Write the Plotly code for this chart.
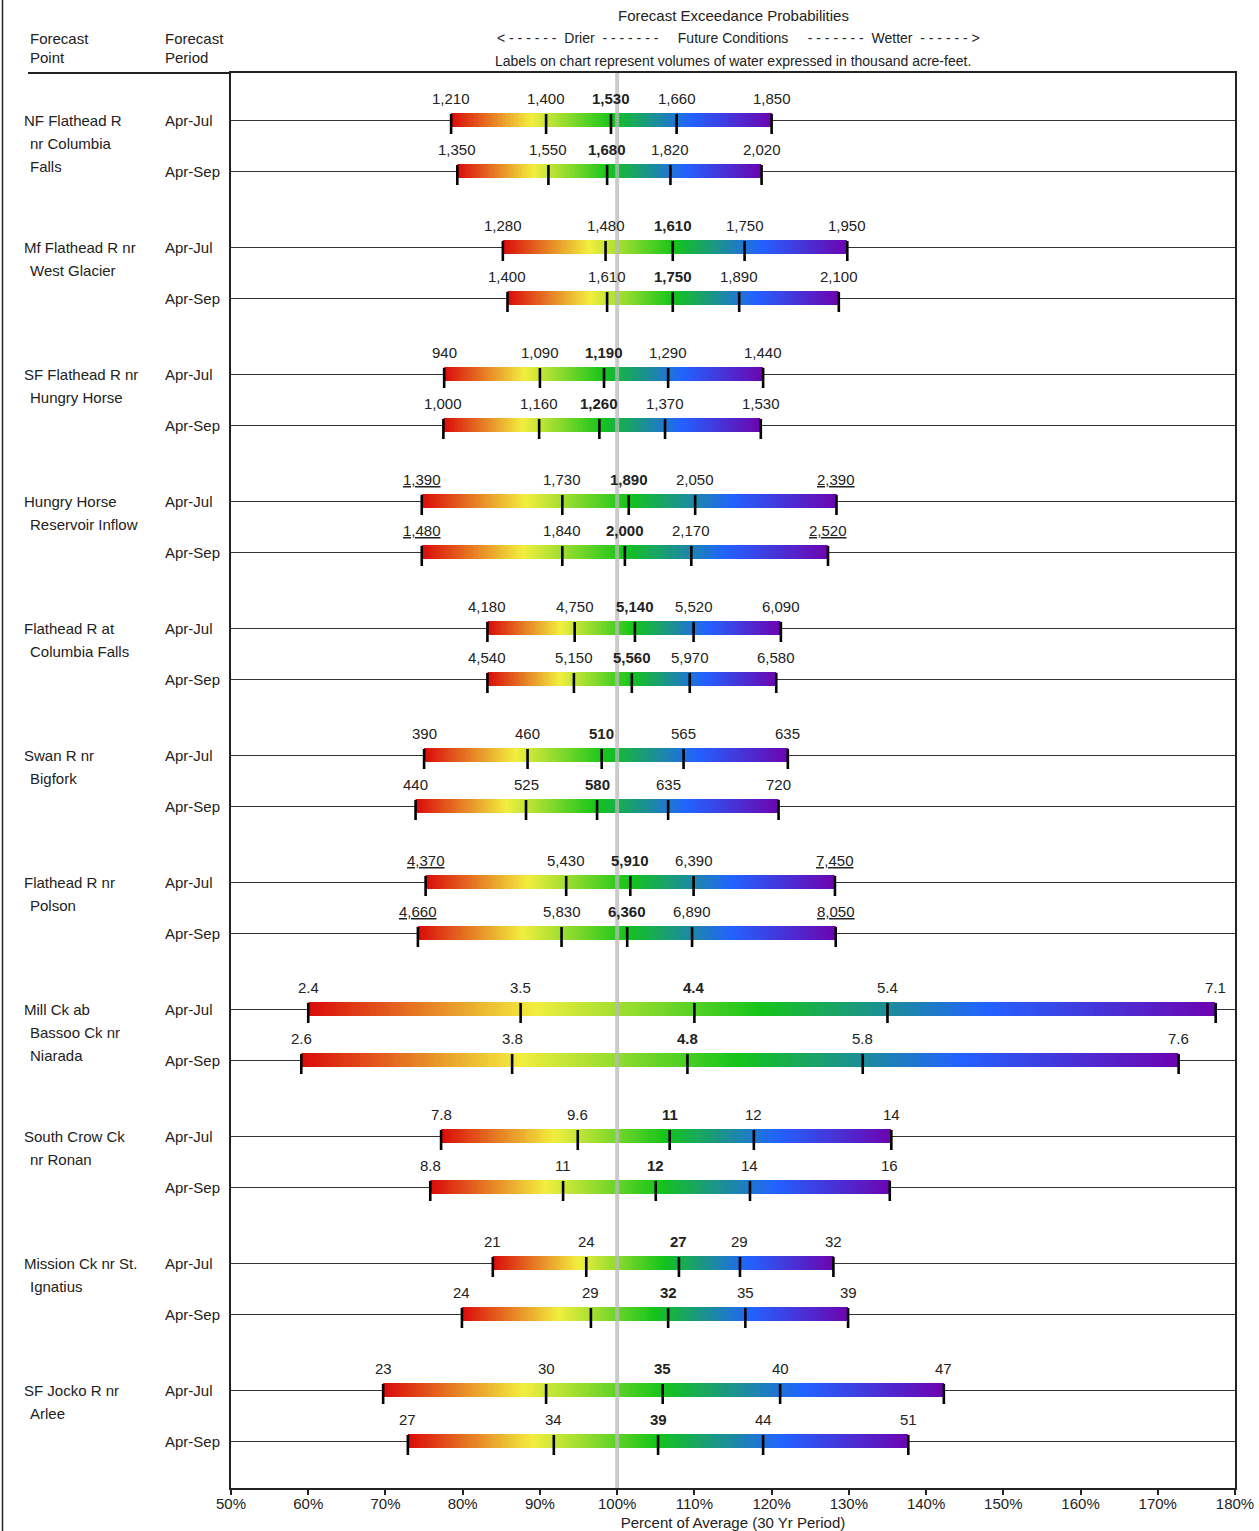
import numpy as np
import plotly.graph_objects as go

# ---------------- data ----------------
point_names = [
    "NF Flathead R\nnr Columbia\nFalls",
    "Mf Flathead R nr\nWest Glacier",
    "SF Flathead R nr\nHungry Horse",
    "Hungry Horse\nReservoir Inflow",
    "Flathead R at\nColumbia Falls",
    "Swan R nr\nBigfork",
    "Flathead R nr\nPolson",
    "Mill Ck ab\nBassoo Ck nr\nNiarada",
    "South Crow Ck\nnr Ronan",
    "Mission Ck nr St.\nIgnatius",
    "SF Jocko R nr\nArlee",
]
periods = ["Apr-Jul", "Apr-Sep"]

# exceedance labels (90%, 70%, 50%, 30%, 10%) per row, thousand acre-feet
value_labels = [
    ["1,210", "1,400", "1,530", "1,660", "1,850"],
    ["1,350", "1,550", "1,680", "1,820", "2,020"],
    ["1,280", "1,480", "1,610", "1,750", "1,950"],
    ["1,400", "1,610", "1,750", "1,890", "2,100"],
    ["940", "1,090", "1,190", "1,290", "1,440"],
    ["1,000", "1,160", "1,260", "1,370", "1,530"],
    ["1,390", "1,730", "1,890", "2,050", "2,390"],
    ["1,480", "1,840", "2,000", "2,170", "2,520"],
    ["4,180", "4,750", "5,140", "5,520", "6,090"],
    ["4,540", "5,150", "5,560", "5,970", "6,580"],
    ["390", "460", "510", "565", "635"],
    ["440", "525", "580", "635", "720"],
    ["4,370", "5,430", "5,910", "6,390", "7,450"],
    ["4,660", "5,830", "6,360", "6,890", "8,050"],
    ["2.4", "3.5", "4.4", "5.4", "7.1"],
    ["2.6", "3.8", "4.8", "5.8", "7.6"],
    ["7.8", "9.6", "11", "12", "14"],
    ["8.8", "11", "12", "14", "16"],
    ["21", "24", "27", "29", "32"],
    ["24", "29", "32", "35", "39"],
    ["23", "30", "35", "40", "47"],
    ["27", "34", "39", "44", "51"],
]

# percent of 30-yr average for each exceedance level
pct_of_avg = [
    [78.5, 90.8, 99.2, 107.7, 120.0],
    [79.3, 91.1, 98.7, 106.9, 118.7],
    [85.2, 98.5, 107.2, 116.5, 129.8],
    [85.8, 98.7, 107.2, 115.8, 128.7],
    [77.6, 90.0, 98.3, 106.6, 118.9],
    [77.5, 89.9, 97.7, 106.2, 118.6],
    [74.7, 92.9, 101.5, 110.1, 128.4],
    [74.7, 92.9, 101.0, 109.6, 127.3],
    [83.2, 94.5, 102.3, 109.9, 121.2],
    [83.2, 94.4, 101.9, 109.4, 120.6],
    [75.0, 88.4, 98.0, 108.6, 122.1],
    [73.9, 88.2, 97.4, 106.6, 120.9],
    [75.2, 93.4, 101.7, 109.9, 128.2],
    [74.2, 92.8, 101.3, 109.7, 128.3],
    [60.0, 87.5, 110.0, 135.0, 177.5],
    [59.1, 86.4, 109.1, 131.8, 172.7],
    [77.2, 94.9, 106.8, 117.7, 135.5],
    [75.8, 93.0, 105.0, 117.2, 135.3],
    [83.9, 96.0, 108.0, 115.9, 128.0],
    [79.9, 96.6, 106.6, 116.6, 129.9],
    [69.7, 90.8, 105.9, 121.1, 142.3],
    [72.9, 91.8, 105.3, 118.9, 137.7],
]

median_index = 2
underlined_rows = [6, 7, 12, 13]   # rows whose extreme labels are underlined
x_ticks = list(range(50, 181, 10))
average_line = 100

# ---------------- layout helpers ----------------
W, H = 1259, 1531
ML, MR, MT, MB = 231, 24, 73, 43
PW, PH = W - ML - MR, H - MT - MB
ROW_PX = 51.0
GROUP_STEP = 127 / ROW_PX
FIRST_ROW_PX = 120
rows_y = [g * GROUP_STEP + r for g in range(len(point_names)) for r in range(len(periods))]
y_top = (MT - FIRST_ROW_PX) / ROW_PX
y_bot = (MT + PH - FIRST_ROW_PX) / ROW_PX

BAR_HALF = 7 / ROW_PX
TICK_UP = 6 / ROW_PX
TICK_DOWN = 14 / ROW_PX

FONT = "Liberation Sans, Arial, sans-serif"
TXT = "#222222"

rainbow = [
    [0.0, "#da0a0a"],
    [0.25, "#f2ee3e"],
    [0.5, "#14c41a"],
    [0.75, "#2262ff"],
    [1.0, "#6c04b0"],
]


def px_to_paper_x(px):
    return (px - ML) / PW


def px_to_paper_y(py):
    return 1 - (py - MT) / PH


fig = go.Figure()

# gradient bars
N = 240
frac = (np.arange(N) + 0.5) / N
for pcts, y in zip(pct_of_avg, rows_y):
    edges = np.linspace(pcts[0], pcts[-1], N + 1)
    fig.add_trace(go.Heatmap(
        x=edges, y=[y - BAR_HALF, y + BAR_HALF], z=[frac],
        colorscale=rainbow, zmin=0, zmax=1, showscale=False, hoverinfo="skip",
    ))

# tick marks at each exceedance level
tx, ty = [], []
for pcts, y in zip(pct_of_avg, rows_y):
    for p in pcts:
        tx += [p, p, None]
        ty += [y - TICK_UP, y + TICK_DOWN, None]
fig.add_trace(go.Scatter(x=tx, y=ty, mode="lines",
                         line=dict(color="black", width=2.6),
                         hoverinfo="skip", showlegend=False))

annotations = []
# value labels
for i, (pcts, labs, y) in enumerate(zip(pct_of_avg, value_labels, rows_y)):
    for j, (p, lab) in enumerate(zip(pcts, labs)):
        t = lab
        if j == median_index:
            t = "<b>" + t + "</b>"
        if i in underlined_rows and j in (0, len(labs) - 1):
            t = "<u>" + t + "</u>"
        annotations.append(dict(x=p, y=y, xref="x", yref="y", text=t, showarrow=False,
                                yshift=22, font=dict(size=15, color=TXT, family=FONT)))

# forecast point names and periods
for g, name in enumerate(point_names):
    y0 = rows_y[2 * g]
    for k, line in enumerate(name.split("\n")):
        annotations.append(dict(x=px_to_paper_x(24), y=y0, xref="paper", yref="y", text=line,
                                showarrow=False, xanchor="left", yshift=-23 * k,
                                xshift=(4 if k > 0 else -2),
                                font=dict(size=15, color=TXT, family=FONT)))
    for r, per in enumerate(periods):
        annotations.append(dict(x=px_to_paper_x(165), y=rows_y[2 * g + r], xref="paper", yref="y",
                                text=per, showarrow=False, xanchor="left", xshift=-2,
                                font=dict(size=15, color=TXT, family=FONT)))

# header texts
hdr = dict(size=15, color=TXT, family=FONT)
for txt, px, py in [("Forecast", 30, 38), ("Point", 30, 58), ("Forecast", 165, 38), ("Period", 165, 58)]:
    annotations.append(dict(x=px_to_paper_x(px), y=px_to_paper_y(py), xref="paper", yref="paper",
                            text=txt, showarrow=False, xanchor="left", yanchor="middle",
                            xshift=-2, font=hdr))

NB = "\u00a0"
d6 = NB.join(["-"] * 6)
d7 = NB.join(["-"] * 7)
drier = ("<" + NB + d6 + NB * 2 + "Drier" + NB * 2 + d7 + NB * 5 + "Future" + NB + "Conditions" + NB * 5
         + d7 + NB * 2 + "Wetter" + NB * 2 + d6 + NB + ">")
for txt, px, py, sz in [("Forecast Exceedance Probabilities", 733, 15, 15),
                        (drier, 738, 38, 14),
                        ("Labels on chart represent volumes of water expressed in thousand acre-feet.", 733, 61, 14)]:
    annotations.append(dict(x=px_to_paper_x(px), y=px_to_paper_y(py), xref="paper", yref="paper",
                            text=txt, showarrow=False, xanchor="center", yanchor="middle",
                            font=dict(size=sz, color=TXT, family=FONT)))

shapes = [
    # 100% of average reference line
    dict(type="line", xref="x", yref="paper", x0=average_line, x1=average_line, y0=0, y1=1,
         line=dict(color="rgba(185,185,185,0.75)", width=4), layer="above"),
    # header underline
    dict(type="line", xref="paper", yref="paper", x0=px_to_paper_x(28), x1=0, y0=1, y1=1,
         line=dict(color="#222", width=2)),
    # left page border
    dict(type="line", xref="paper", yref="paper", x0=px_to_paper_x(2.5), x1=px_to_paper_x(2.5),
         y0=px_to_paper_y(-5), y1=px_to_paper_y(H + 5), line=dict(color="#222", width=1.5)),
]

fig.update_layout(
    width=W, height=H,
    margin=dict(l=ML, r=MR, t=MT, b=MB, pad=0),
    paper_bgcolor="white", plot_bgcolor="white",
    showlegend=False,
    font=dict(family=FONT, size=15, color=TXT),
    annotations=annotations, shapes=shapes,
    xaxis=dict(range=[50, 180], tickvals=x_ticks, ticktext=[f"{v}%" for v in x_ticks],
               ticks="outside", ticklen=5, tickcolor="#222", tickwidth=1.5,
               ticklabelstandoff=-4,
               showline=True, mirror=True, linecolor="#222", linewidth=2,
               showgrid=False, zeroline=False, tickfont=dict(size=15, color=TXT),
               title=dict(text="Percent of Average (30 Yr Period)", font=dict(size=15, color=TXT),
                          standoff=12),
               automargin=False, fixedrange=True),
    yaxis=dict(range=[y_bot, y_top], tickvals=rows_y, showticklabels=False, ticks="",
               showgrid=True, gridcolor="#333", gridwidth=1,
               showline=True, mirror=True, linecolor="#222", linewidth=2,
               zeroline=False, automargin=False, fixedrange=True),
)

fig.write_html("out.html", config={"displayModeBar": False},
               post_script="document.body.style.margin='0';document.body.style.overflow='hidden';")
